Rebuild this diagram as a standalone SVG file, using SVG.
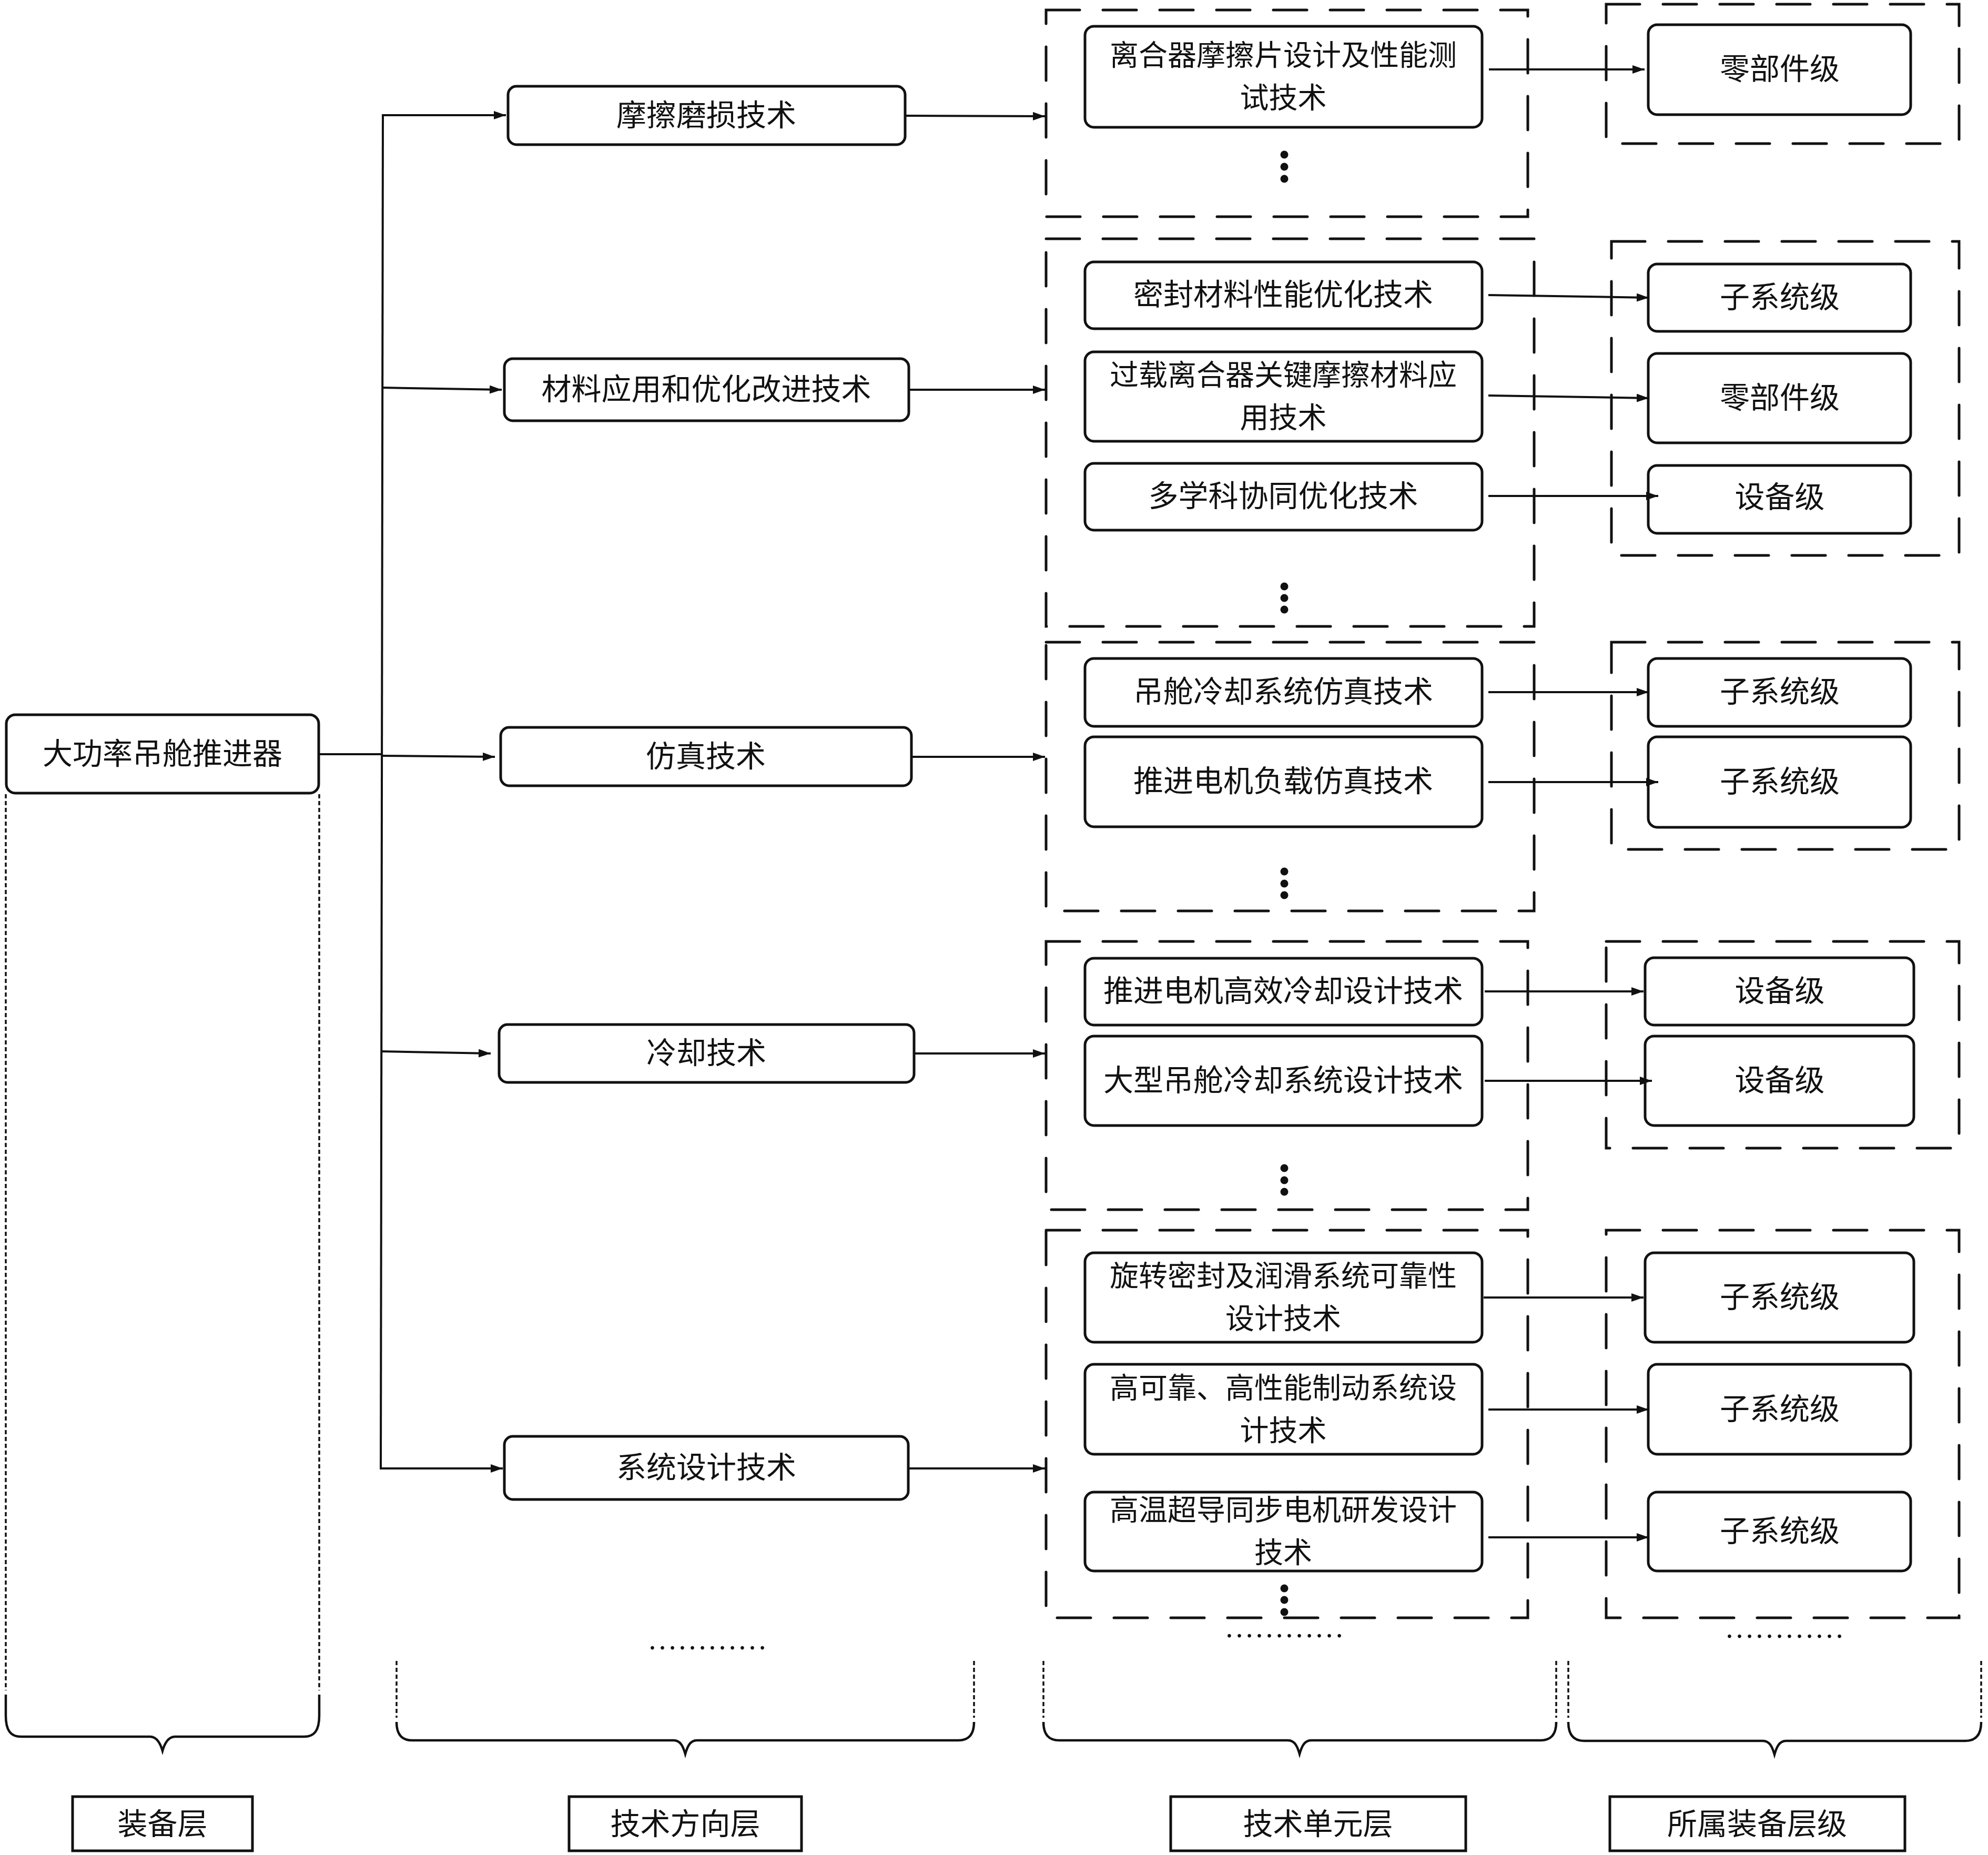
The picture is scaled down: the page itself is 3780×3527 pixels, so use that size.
<svg xmlns="http://www.w3.org/2000/svg" width="3780" height="3527" viewBox="0 0 3780 3527">
<defs>
<style>
.box{fill:#fff;stroke:#111;stroke-width:5}
.lab{fill:#fff;stroke:#111;stroke-width:5}
.grp{fill:none;stroke:#111;stroke-width:5;stroke-dasharray:64 44;stroke-linecap:round}
.fine{fill:none;stroke:#111;stroke-width:3.5;stroke-dasharray:8 5}
.brace{fill:none;stroke:#111;stroke-width:4.5}
.conn{fill:none;stroke:#111;stroke-width:4}
.t{font-family:"Noto Sans CJK SC","Noto Sans CJK TC",sans-serif;font-size:57px;text-anchor:middle;dominant-baseline:central;fill:#111}
.t2{font-size:55px}
.ell{font-family:"Liberation Serif",serif;font-size:57px;text-anchor:middle;fill:#111}
.dot{fill:#111}
</style>
<marker id="ah" markerUnits="userSpaceOnUse" markerWidth="24" markerHeight="18" refX="23" refY="8" orient="auto">
<path d="M0,0 L23,8 L0,16 z" fill="#111"/>
</marker>
</defs>
<rect width="3780" height="3527" fill="#fff"/>

<!-- group (dashed) frames -->
<g id="frames">
<rect class="grp" x="1989" y="19" width="916" height="393"/>
<rect class="grp" x="1989" y="454" width="928" height="737"/>
<rect class="grp" x="1989" y="1221" width="928" height="511"/>
<rect class="grp" x="1989" y="1790" width="916" height="510"/>
<rect class="grp" x="1989" y="2339" width="916" height="737"/>
<rect class="grp" x="3054" y="8" width="671" height="265"/>
<rect class="grp" x="3064" y="459" width="661" height="597"/>
<rect class="grp" x="3064" y="1221" width="661" height="394"/>
<rect class="grp" x="3054" y="1790" width="671" height="393"/>
<rect class="grp" x="3054" y="2339" width="671" height="737"/>
</g>

<!-- equipment layer -->
<g id="n-main">
<rect class="box" x="12" y="1359" width="594" height="149" rx="17"/>
<text class="t" x="309" y="1428">大功率吊舱推进器</text>
</g>

<!-- technology directions -->
<g id="d1"><rect class="box" x="966" y="164" width="755" height="111" rx="16"/><text class="t" x="1343" y="214">摩擦磨损技术</text></g>
<g id="d2"><rect class="box" x="959" y="682" width="769" height="118" rx="16"/><text class="t" x="1343" y="735">材料应用和优化改进技术</text></g>
<g id="d3"><rect class="box" x="952" y="1383" width="781" height="111" rx="16"/><text class="t" x="1342" y="1433">仿真技术</text></g>
<g id="d4"><rect class="box" x="949" y="1948" width="789" height="110" rx="16"/><text class="t" x="1343" y="1997">冷却技术</text></g>
<g id="d5"><rect class="box" x="959" y="2731" width="768" height="120" rx="16"/><text class="t" x="1343" y="2785">系统设计技术</text></g>

<!-- technology units -->
<g id="u1"><rect class="box" x="2063" y="50" width="755" height="192" rx="17"/><text class="t t2" x="2440" y="100">离合器摩擦片设计及性能测<tspan x="2440" dy="81">试技术</tspan></text></g>
<g id="u2"><rect class="box" x="2063" y="498" width="755" height="127" rx="17"/><text class="t" x="2440" y="555">密封材料性能优化技术</text></g>
<g id="u3"><rect class="box" x="2063" y="669" width="755" height="170" rx="17"/><text class="t t2" x="2440" y="708">过载离合器关键摩擦材料应<tspan x="2440" dy="81">用技术</tspan></text></g>
<g id="u4"><rect class="box" x="2063" y="881" width="755" height="127" rx="17"/><text class="t" x="2440" y="938">多学科协同优化技术</text></g>
<g id="u5"><rect class="box" x="2063" y="1252" width="755" height="129" rx="17"/><text class="t" x="2440" y="1310">吊舱冷却系统仿真技术</text></g>
<g id="u6"><rect class="box" x="2063" y="1401" width="755" height="171" rx="17"/><text class="t" x="2440" y="1480">推进电机负载仿真技术</text></g>
<g id="u7"><rect class="box" x="2063" y="1822" width="755" height="127" rx="17"/><text class="t" x="2440" y="1879">推进电机高效冷却设计技术</text></g>
<g id="u8"><rect class="box" x="2063" y="1970" width="755" height="170" rx="17"/><text class="t" x="2440" y="2049">大型吊舱冷却系统设计技术</text></g>
<g id="u9"><rect class="box" x="2063" y="2382" width="755" height="170" rx="17"/><text class="t t2" x="2440" y="2421">旋转密封及润滑系统可靠性<tspan x="2440" dy="81">设计技术</tspan></text></g>
<g id="u10"><rect class="box" x="2063" y="2594" width="755" height="171" rx="17"/><text class="t t2" x="2440" y="2634">高可靠、高性能制动系统设<tspan x="2440" dy="81">计技术</tspan></text></g>
<g id="u11"><rect class="box" x="2063" y="2837" width="755" height="150" rx="17"/><text class="t t2" x="2440" y="2866">高温超导同步电机研发设计<tspan x="2440" dy="81">技术</tspan></text></g>

<!-- vertical ellipsis dots -->
<g id="vdots">
<circle class="dot" cx="2442" cy="294" r="7.5"/><circle class="dot" cx="2442" cy="317" r="7.5"/><circle class="dot" cx="2442" cy="340" r="7.5"/>
<circle class="dot" cx="2442" cy="1115" r="7.5"/><circle class="dot" cx="2442" cy="1137" r="7.5"/><circle class="dot" cx="2442" cy="1159" r="7.5"/>
<circle class="dot" cx="2442" cy="1657" r="7.5"/><circle class="dot" cx="2442" cy="1680" r="7.5"/><circle class="dot" cx="2442" cy="1702" r="7.5"/>
<circle class="dot" cx="2442" cy="2221" r="7.5"/><circle class="dot" cx="2442" cy="2244" r="7.5"/><circle class="dot" cx="2442" cy="2266" r="7.5"/>
<circle class="dot" cx="2442" cy="3020" r="7.5"/><circle class="dot" cx="2442" cy="3042" r="7.5"/><circle class="dot" cx="2442" cy="3065" r="7.5"/>
</g>

<!-- equipment levels -->
<g id="l1"><rect class="box" x="3134" y="47" width="499" height="171" rx="17"/><text class="t" x="3384" y="126">零部件级</text></g>
<g id="l2"><rect class="box" x="3134" y="502" width="499" height="128" rx="17"/><text class="t" x="3384" y="560">子系统级</text></g>
<g id="l3"><rect class="box" x="3134" y="672" width="499" height="170" rx="17"/><text class="t" x="3384" y="751">零部件级</text></g>
<g id="l4"><rect class="box" x="3134" y="885" width="499" height="129" rx="17"/><text class="t" x="3384" y="940">设备级</text></g>
<g id="l5"><rect class="box" x="3134" y="1252" width="499" height="129" rx="17"/><text class="t" x="3384" y="1310">子系统级</text></g>
<g id="l6"><rect class="box" x="3134" y="1401" width="499" height="172" rx="17"/><text class="t" x="3384" y="1481">子系统级</text></g>
<g id="l7"><rect class="box" x="3128" y="1821" width="511" height="128" rx="17"/><text class="t" x="3384" y="1879">设备级</text></g>
<g id="l8"><rect class="box" x="3128" y="1970" width="511" height="170" rx="17"/><text class="t" x="3384" y="2049">设备级</text></g>
<g id="l9"><rect class="box" x="3128" y="2382" width="511" height="170" rx="17"/><text class="t" x="3384" y="2461">子系统级</text></g>
<g id="l10"><rect class="box" x="3134" y="2594" width="499" height="171" rx="17"/><text class="t" x="3384" y="2674">子系统级</text></g>
<g id="l11"><rect class="box" x="3134" y="2837" width="499" height="150" rx="17"/><text class="t" x="3384" y="2906">子系统级</text></g>

<!-- connectors -->
<g id="connectors">
<line class="conn" x1="607" y1="1434" x2="726" y2="1434"/>
<line class="conn" x1="728" y1="219" x2="724" y2="2792"/>
<line class="conn" x1="726" y1="219" x2="962" y2="219" marker-end="url(#ah)"/>
<line class="conn" x1="726" y1="737" x2="954" y2="741" marker-end="url(#ah)"/>
<line class="conn" x1="725" y1="1437" x2="941" y2="1439" marker-end="url(#ah)"/>
<line class="conn" x1="725" y1="1999" x2="933" y2="2003" marker-end="url(#ah)"/>
<line class="conn" x1="722" y1="2792" x2="956" y2="2792" marker-end="url(#ah)"/>

<line class="conn" x1="1721" y1="220" x2="1987" y2="221" marker-end="url(#ah)"/>
<line class="conn" x1="1728" y1="741" x2="1987" y2="741" marker-end="url(#ah)"/>
<line class="conn" x1="1733" y1="1439" x2="1987" y2="1439" marker-end="url(#ah)"/>
<line class="conn" x1="1738" y1="2003" x2="1987" y2="2003" marker-end="url(#ah)"/>
<line class="conn" x1="1727" y1="2792" x2="1987" y2="2792" marker-end="url(#ah)"/>

<line class="conn" x1="2831" y1="132" x2="3127" y2="132" marker-end="url(#ah)"/>
<line class="conn" x1="2830" y1="561" x2="3135" y2="566" marker-end="url(#ah)"/>
<line class="conn" x1="2830" y1="752" x2="3135" y2="757" marker-end="url(#ah)"/>
<line class="conn" x1="2830" y1="943" x2="3153" y2="943" marker-end="url(#ah)"/>
<line class="conn" x1="2830" y1="1316" x2="3135" y2="1316" marker-end="url(#ah)"/>
<line class="conn" x1="2830" y1="1487" x2="3153" y2="1487" marker-end="url(#ah)"/>
<line class="conn" x1="2823" y1="1885" x2="3125" y2="1885" marker-end="url(#ah)"/>
<line class="conn" x1="2823" y1="2055" x2="3141" y2="2055" marker-end="url(#ah)"/>
<line class="conn" x1="2821" y1="2467" x2="3125" y2="2467" marker-end="url(#ah)"/>
<line class="conn" x1="2830" y1="2680" x2="3135" y2="2680" marker-end="url(#ah)"/>
<line class="conn" x1="2830" y1="2923" x2="3135" y2="2923" marker-end="url(#ah)"/>
</g>

<!-- horizontal ellipses -->
<g id="hdots">
<text class="ell" x="1345" y="3136">…………</text>
<text class="ell" x="2442" y="3113">…………</text>
<text class="ell" x="3393" y="3114">…………</text>
</g>

<!-- braces -->
<g id="braces">
<line class="fine" x1="11" y1="1510" x2="11" y2="3214"/>
<line class="fine" x1="607" y1="1510" x2="607" y2="3214"/>
<path class="brace" d="M11,3222 V3262 C11,3290 20,3302 40,3302 H285 C298,3302 305,3315 309,3329 C313,3315 320,3302 333,3302 H578 C598,3302 607,3290 607,3262 V3222"/>

<line class="fine" x1="754" y1="3158" x2="754" y2="3266"/>
<line class="fine" x1="1852" y1="3158" x2="1852" y2="3266"/>
<path class="brace" d="M754,3274 C754,3298 764,3309 784,3309 H1281 C1294,3309 1299,3321 1303,3335 C1307,3321 1312,3309 1325,3309 H1822 C1842,3309 1852,3298 1852,3274"/>

<line class="fine" x1="1984" y1="3158" x2="1984" y2="3266"/>
<line class="fine" x1="2959" y1="3158" x2="2959" y2="3266"/>
<path class="brace" d="M1984,3274 C1984,3298 1994,3309 2014,3309 H2449 C2462,3309 2467,3321 2471,3335 C2475,3321 2480,3309 2493,3309 H2929 C2949,3309 2959,3298 2959,3274"/>

<line class="fine" x1="2982" y1="3158" x2="2982" y2="3266"/>
<line class="fine" x1="3767" y1="3158" x2="3767" y2="3266"/>
<path class="brace" d="M2982,3274 C2982,3298 2992,3310 3012,3310 H3352 C3365,3310 3370,3322 3374,3336 C3378,3322 3383,3310 3396,3310 H3737 C3757,3310 3767,3298 3767,3274"/>
</g>

<!-- layer labels -->
<g id="lab1"><rect class="lab" x="138" y="3416" width="342" height="103"/><text class="t" x="309" y="3463">装备层</text></g>
<g id="lab2"><rect class="lab" x="1082" y="3416" width="442" height="103"/><text class="t" x="1303" y="3463">技术方向层</text></g>
<g id="lab3"><rect class="lab" x="2226" y="3416" width="561" height="103"/><text class="t" x="2506" y="3463">技术单元层</text></g>
<g id="lab4"><rect class="lab" x="3061" y="3416" width="561" height="103"/><text class="t" x="3341" y="3463">所属装备层级</text></g>
</svg>
